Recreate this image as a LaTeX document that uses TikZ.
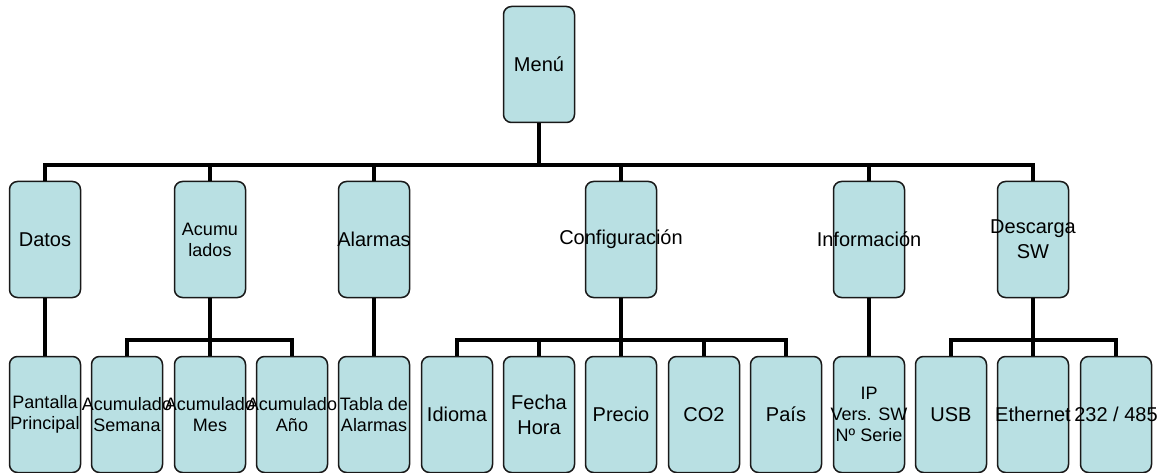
\documentclass[tikz,border=0pt]{standalone}
\usepackage{fontspec}
\setmainfont{Liberation Sans}
\definecolor{celeste}{HTML}{B9E0E3}
\tikzset{
  marco/.style={draw=black!90, line width=1.5pt, fill=celeste, rounded corners=8pt,
    minimum width=71pt, minimum height=116pt, inner sep=0pt},
  texto/.style={align=center, font=\fontsize{20}{25}\selectfont},
  textop/.style={align=center, font=\fontsize{18}{21}\selectfont},
  caja/.style={marco, label={[texto]center:#1}},
  cajap/.style={marco, label={[textop]center:#1}},
  conector/.style={line width=4pt}
}
\begin{document}
\begin{tikzpicture}[x=1pt,y=-1pt]
%\draw[step=50,gray,very thin] (0,0) grid (1162,473);
\useasboundingbox (0,0) rectangle (1162,473);
\node[caja={Menú}] (menu) at (539,64.5) {};
\node[caja={Datos}] (datos) at (45,239.5) {};
\node[cajap={Acumu\\lados}] (acumulados) at (210,239.5) {};
\node[caja={Alarmas}] (alarmas) at (374,239.5) {};
\node[caja={Configuración}] (config) at (621,239.5) {};
\node[caja={Información}] (info) at (869,239.5) {};
\node[caja={Descarga\\SW}] (descarga) at (1033,239.5) {};
\node[cajap={Pantalla\\Principal}] (pantalla) at (45,414.5) {};
\node[cajap={Acumulado\\Semana}] (semana) at (127,414.5) {};
\node[cajap={Acumulado\\Mes}] (mes) at (210,414.5) {};
\node[cajap={Acumulado\\Año}] (anio) at (292,414.5) {};
\node[cajap={Tabla de\\Alarmas}] (tabla) at (374,414.5) {};
\node[caja={Idioma}] (idioma) at (457,414.5) {};
\node[caja={Fecha\\Hora}] (fecha) at (539,414.5) {};
\node[caja={Precio}] (precio) at (621,414.5) {};
\node[caja={CO2}] (co2) at (704,414.5) {};
\node[caja={País}] (pais) at (786,414.5) {};
\node[cajap={IP\\Vers. SW\\Nº Serie}] (ip) at (869,414.5) {};
\node[caja={USB}] (usb) at (951,414.5) {};
\node[caja={Ethernet}] (ethernet) at (1033,414.5) {};
\node[caja={232 / 485}] (serie) at (1116,414.5) {};
\coordinate (barra0) at (539,165);
\coordinate (barra1) at (210,340);
\coordinate (barra2) at (621,340);
\coordinate (barra3) at (1033,340);
\draw[conector] (menu.south) -- (barra0);
\draw[conector] (barra0) -| (datos.north);
\draw[conector] (barra0) -| (acumulados.north);
\draw[conector] (barra0) -| (alarmas.north);
\draw[conector] (barra0) -| (config.north);
\draw[conector] (barra0) -| (info.north);
\draw[conector] (barra0) -| (descarga.north);
\draw[conector] (datos.south) -- (pantalla.north);
\draw[conector] (acumulados.south) -- (barra1);
\draw[conector] (barra1) -| (semana.north);
\draw[conector] (barra1) -- (mes.north);
\draw[conector] (barra1) -| (anio.north);
\draw[conector] (alarmas.south) -- (tabla.north);
\draw[conector] (config.south) -- (barra2);
\draw[conector] (barra2) -| (idioma.north);
\draw[conector] (barra2) -| (fecha.north);
\draw[conector] (barra2) -- (precio.north);
\draw[conector] (barra2) -| (co2.north);
\draw[conector] (barra2) -| (pais.north);
\draw[conector] (info.south) -- (ip.north);
\draw[conector] (descarga.south) -- (barra3);
\draw[conector] (barra3) -| (usb.north);
\draw[conector] (barra3) -- (ethernet.north);
\draw[conector] (barra3) -| (serie.north);
\end{tikzpicture}
\end{document}
